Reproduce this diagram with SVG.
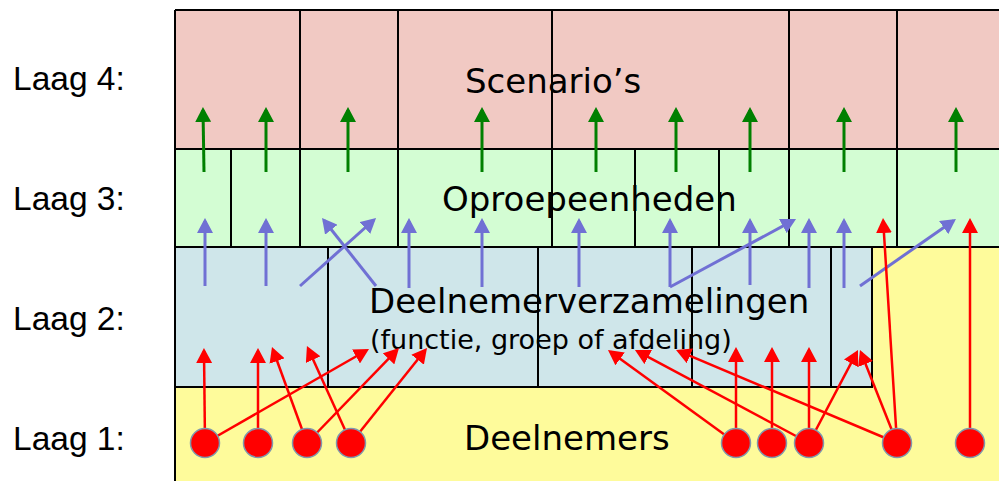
<svg xmlns="http://www.w3.org/2000/svg" width="999" height="481" viewBox="0 0 999 481">
<style>
.bd{stroke:#000;stroke-width:2;fill:none}
.lbl{font-family:"Liberation Sans",Arial,sans-serif;font-size:33.5px;fill:#000}
.t{font-family:"DejaVu Sans",Verdana,sans-serif;font-size:34px;fill:#000}
.ts{font-family:"DejaVu Sans",Verdana,sans-serif;font-size:27px;fill:#000}
.g{stroke:#008000;stroke-width:3;fill:none;marker-end:url(#ag)}
.b{stroke:#7070d4;stroke-width:3;fill:none;marker-end:url(#ab)}
.r{stroke:#ff0000;stroke-width:2.5;fill:none;marker-end:url(#ar)}
.c{fill:#ff0000;stroke:#7f98ad;stroke-width:1.5}
</style>
<defs>
<marker id="ag" markerUnits="userSpaceOnUse" viewBox="0 0 15 16" refX="12" refY="8" markerWidth="15" markerHeight="16" orient="auto"><path d="M0,0 L15,8 L0,16 z" fill="#008000"/></marker>
<marker id="ab" markerUnits="userSpaceOnUse" viewBox="0 0 15 16" refX="12" refY="8" markerWidth="15" markerHeight="16" orient="auto"><path d="M0,0 L15,8 L0,16 z" fill="#7070d4"/></marker>
<marker id="ar" markerUnits="userSpaceOnUse" viewBox="0 0 15 16" refX="12" refY="8" markerWidth="15" markerHeight="16" orient="auto"><path d="M0,0 L15,8 L0,16 z" fill="#ff0000"/></marker>
</defs>
<rect width="999" height="481" fill="#fff"/>
<g id="laag4">
<rect x="175" y="10" width="824" height="139" fill="#f1c9c3"/>
<text class="t" x="465" y="93">Scenario’s</text>
</g>
<g id="laag3">
<rect x="175" y="149" width="824" height="98" fill="#d3fdd3"/>
<text class="t" x="442" y="211">Oproepeenheden</text>
</g>
<g id="laag1">
<rect x="175" y="247" width="824" height="234" fill="#fefb9b"/>
<text class="t" x="464" y="450">Deelnemers</text>
</g>
<g id="laag2">
<rect x="175" y="247" width="697" height="140" fill="#cfe6ea"/>
<text class="t" x="369" y="313">Deelnemerverzamelingen</text>
<text class="ts" x="370" y="349">(functie, groep of afdeling)</text>
</g>
<g id="grid">
<path class="bd" d="M175,10 H999 M175,10 V481 M175,149 H999 M175,247 H999 M175,387 H872 V247
M300,10 V247 M398,10 V247 M552,10 V247 M789,10 V247 M897,10 V247
M231,149 V247 M635,149 V247 M719,149 V247
M328,247 V387 M538,247 V387 M692,247 V387 M831,247 V387"/>
</g>
<g id="labels">
<text class="lbl" x="13" y="90">Laag 4:</text>
<text class="lbl" x="13" y="210">Laag 3:</text>
<text class="lbl" x="13" y="330">Laag 2:</text>
<text class="lbl" x="13" y="450">Laag 1:</text>
</g>
<g id="connectors">
<path class="g" d="M204,172 L203,110"/>
<path class="g" d="M266,172 V110"/>
<path class="g" d="M348,172 V110"/>
<path class="g" d="M482,172 V110"/>
<path class="g" d="M596,172 V110"/>
<path class="g" d="M676,172 V110"/>
<path class="g" d="M750,172 V110"/>
<path class="g" d="M844,172 V110"/>
<path class="g" d="M956,172 V110"/>
<path class="b" d="M205,286 V221"/>
<path class="b" d="M266,286 V221"/>
<path class="b" d="M300,286 L373.8,220"/>
<path class="b" d="M376,286 L323.9,220.3"/>
<path class="b" d="M409,288 V221"/>
<path class="b" d="M482,287 V221"/>
<path class="b" d="M579,287 V221"/>
<path class="b" d="M670,287 V221"/>
<path class="b" d="M670,287 L793.4,220.4"/>
<path class="b" d="M750,285 V221"/>
<path class="b" d="M809,288 V221"/>
<path class="b" d="M844,288 V221"/>
<path class="b" d="M860,286 L953.5,220.7"/>
<path class="r" d="M205,443 L204,351"/>
<path class="r" d="M205,443 L366.4,350.5"/>
<path class="r" d="M258,443 V351"/>
<path class="r" d="M307,443 L273,349.8"/>
<path class="r" d="M307,443 L396.9,350.2"/>
<path class="r" d="M351,443 L308.2,348.7"/>
<path class="r" d="M351,443 L425.1,350.3"/>
<path class="r" d="M736,443 L610.4,351.8"/>
<path class="r" d="M736,443 V350"/>
<path class="r" d="M772,443 V350"/>
<path class="r" d="M809,443 L637.6,351.4"/>
<path class="r" d="M809,443 V350"/>
<path class="r" d="M809,443 L856.6,352.7"/>
<path class="r" d="M897,443 L678.8,351.2"/>
<path class="r" d="M897,443 L861.1,352.8"/>
<path class="r" d="M897,443 L883.2,221"/>
<path class="r" d="M970,443 V221"/>
</g>
<g id="deelnemers">
<circle class="c" cx="205" cy="443" r="14.5"/>
<circle class="c" cx="258" cy="443" r="14.5"/>
<circle class="c" cx="307" cy="443" r="14.5"/>
<circle class="c" cx="351" cy="443" r="14.5"/>
<circle class="c" cx="736" cy="443" r="14.5"/>
<circle class="c" cx="772" cy="443" r="14.5"/>
<circle class="c" cx="809" cy="443" r="14.5"/>
<circle class="c" cx="897" cy="443" r="14.5"/>
<circle class="c" cx="970" cy="443" r="14.5"/>
</g>
</svg>
